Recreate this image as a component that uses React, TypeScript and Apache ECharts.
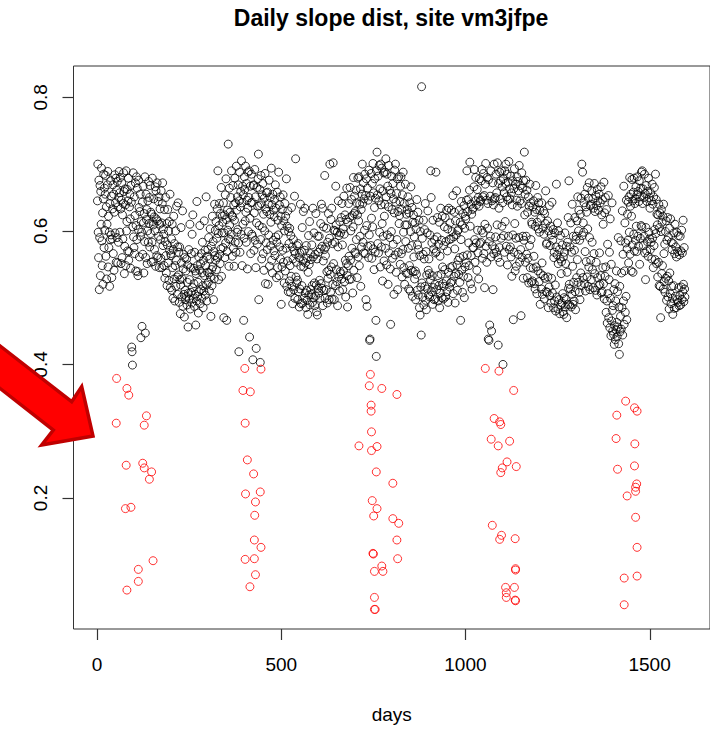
import React, { useEffect, useRef } from "react";
import * as echarts from "echarts";

const chartTitle = "Daily slope dist, site vm3jfpe";
const xAxisName = "days";
const xTicks = [0, 500, 1000, 1500];
const yTicks = [0.2, 0.4, 0.6, 0.8];

// daily slope values (in thousandths), one per day starting at day 1
const firstDay = 1;
const slopeMilli = [
  645, 700, 598, 560, 676, 512, 590, 668, 533, 659, 610, 694, 585, 548, 627, 520, 648, 685, 575, 664,
  601, 655, 683, 562, 636, 528, 610, 669, 689, 546, 622, 575, 598, 517, 641, 587, 675, 594, 652, 530,
  588, 633, 669, 566, 655, 541, 628, 684, 597, 642, 679, 553, 661, 590, 674, 552, 636, 583, 650, 689,
  657, 598, 680, 633, 551, 646, 672, 560, 624, 588, 641, 687, 659, 536, 577, 663, 639, 548, 690, 600,
  614, 662, 570, 645, 679, 556, 569, 636, 655, 618, 544, 668, 643, 426, 419, 399, 606, 687, 591, 575,
  651, 566, 623, 672, 540, 608, 681, 587, 664, 539, 533, 602, 676, 635, 561, 629, 655, 592, 440, 614,
  598, 457, 643, 565, 667, 612, 537, 626, 584, 681, 447, 560, 655, 617, 632, 551, 600, 645, 583, 674,
  611, 650, 576, 668, 596, 628, 553, 625, 583, 679, 614, 554, 609, 648, 621, 572, 600, 666, 547, 660,
  618, 563, 672, 615, 560, 644, 592, 651, 545, 610, 633, 587, 559, 660, 612, 545, 641, 672, 578, 603,
  595, 548, 632, 529, 584, 650, 563, 537, 611, 518, 579, 632, 552, 600, 526, 614, 571, 655, 515, 566,
  563, 588, 511, 610, 545, 499, 572, 622, 528, 581, 495, 548, 600, 517, 556, 637, 531, 505, 576, 642,
  534, 568, 493, 576, 527, 476, 519, 605, 552, 501, 528, 630, 487, 543, 565, 505, 471, 560, 511, 497,
  540, 502, 558, 489, 523, 549, 456, 507, 572, 498, 527, 610, 483, 545, 508, 566, 492, 595, 515, 624,
  499, 544, 521, 487, 568, 505, 540, 459, 536, 495, 644, 548, 502, 523, 477, 561, 509, 542, 608, 491,
  551, 512, 566, 499, 537, 583, 518, 485, 556, 510, 615, 533, 571, 504, 548, 651, 519, 495, 562, 538,
  572, 523, 590, 537, 510, 558, 603, 531, 472, 577, 542, 518, 622, 546, 584, 497, 569, 528, 640, 563,
  601, 556, 614, 542, 589, 633, 560, 690, 596, 527, 608, 641, 565, 551, 626, 573, 665, 532, 597, 622,
  613, 575, 642, 470, 597, 624, 560, 654, 582, 678, 617, 466, 569, 631, 601, 730, 588, 547, 664, 609,
  628, 587, 650, 595, 690, 623, 562, 621, 668, 574, 639, 547, 616, 679, 583, 642, 568, 697, 631, 598,
  651, 602, 669, 582, 419, 645, 688, 568, 636, 659, 595, 705, 642, 548, 667, 610, 654, 466, 589, 681,
  662, 615, 697, 628, 583, 671, 646, 543, 634, 688, 599, 650, 690, 441, 619, 667, 566, 642, 685, 595,
  643, 592, 407, 668, 669, 571, 627, 692, 586, 651, 545, 424, 612, 665, 580, 637, 678, 715, 497, 608,
  638, 662, 403, 587, 683, 641, 558, 654, 605, 671, 566, 625, 541, 649, 600, 686, 521, 633, 582, 657,
  629, 572, 658, 520, 641, 594, 676, 547, 625, 650, 578, 613, 694, 556, 639, 537, 655, 586, 631, 570,
  621, 647, 563, 669, 591, 634, 530, 583, 658, 545, 616, 594, 688, 533, 639, 576, 651, 558, 622, 490,
  608, 546, 632, 571, 654, 553, 615, 522, 600, 641, 540, 622, 574, 678, 517, 607, 555, 630, 509, 599,
  581, 525, 604, 548, 508, 593, 532, 635, 517, 576, 491, 558, 587, 512, 570, 652, 499, 566, 708, 531,
  553, 522, 578, 526, 497, 581, 509, 560, 486, 567, 513, 640, 547, 491, 569, 518, 605, 492, 555, 629,
  546, 499, 571, 634, 507, 552, 485, 578, 511, 496, 559, 475, 538, 593, 504, 550, 614, 489, 566, 512,
  557, 505, 579, 518, 493, 634, 561, 500, 597, 522, 488, 565, 502, 626, 519, 479, 558, 474, 592, 514,
  568, 507, 592, 526, 499, 573, 611, 521, 640, 514, 577, 634, 488, 555, 606, 511, 572, 683, 499, 563,
  576, 512, 604, 539, 492, 583, 529, 626, 541, 497, 589, 700, 535, 508, 617, 546, 634, 498, 581, 520,
  702, 551, 601, 497, 583, 600, 518, 667, 609, 542, 524, 598, 488, 576, 645, 531, 593, 510, 614, 539,
  597, 536, 620, 528, 641, 579, 512, 603, 540, 652, 595, 524, 624, 556, 501, 617, 551, 664, 533, 486,
  613, 548, 641, 562, 527, 620, 665, 556, 600, 528, 647, 574, 623, 507, 606, 680, 541, 626, 652, 568,
  629, 566, 661, 587, 642, 530, 624, 679, 561, 615, 681, 548, 640, 592, 663, 517, 632, 576, 655, 700,
  641, 583, 672, 567, 648, 601, 685, 566, 653, 497, 678, 608, 487, 664, 577, 646, 560, 691, 594, 436,
  438, 652, 578, 686, 619, 559, 671, 606, 701, 573, 657, 542, 635, 678, 568, 649, 466, 412, 690, 718,
  654, 581, 682, 567, 645, 698, 598, 663, 546, 700, 639, 576, 694, 611, 525, 660, 592, 687, 555, 622,
  640, 688, 574, 708, 651, 549, 685, 594, 667, 520, 636, 698, 567, 661, 590, 543, 460, 656, 599, 682,
  632, 559, 671, 580, 648, 505, 627, 691, 564, 700, 643, 538, 656, 587, 678, 512, 629, 568, 681, 611,
  623, 644, 550, 667, 681, 566, 632, 531, 654, 572, 688, 598, 545, 641, 520, 609, 670, 584, 537, 625,
  609, 632, 536, 651, 574, 513, 627, 548, 642, 510, 599, 666, 541, 578, 635, 502, 613, 539, 624, 561,
  591, 528, 612, 540, 497, 603, 535, 647, 511, 579, 628, 504, 572, 616, 485, 563, 474, 599, 516, 444,
  816, 522, 589, 501, 565, 616, 489, 558, 602, 517, 641, 496, 569, 482, 534, 597, 513, 630, 541, 504,
  558, 536, 501, 594, 527, 690, 650, 509, 582, 533, 490, 616, 515, 573, 497, 587, 520, 498, 567, 688,
  569, 512, 591, 620, 533, 495, 580, 518, 613, 485, 562, 507, 634, 535, 586, 500, 622, 546, 521, 498,
  578, 517, 606, 542, 620, 501, 584, 525, 631, 509, 570, 603, 493, 538, 634, 587, 516, 612, 545, 522,
  588, 631, 524, 599, 547, 653, 506, 591, 532, 628, 573, 492, 615, 536, 594, 660, 549, 511, 600, 556,
  602, 535, 631, 560, 523, 613, 466, 587, 644, 541, 609, 508, 626, 562, 532, 638, 500, 604, 546, 622,
  618, 552, 646, 690, 564, 629, 530, 647, 582, 548, 661, 703, 607, 521, 640, 563, 625, 513, 632, 575,
  634, 575, 666, 692, 587, 553, 645, 680, 582, 639, 541, 662, 601, 567, 650, 528, 637, 678, 581, 644,
  646, 583, 675, 601, 692, 559, 651, 597, 686, 566, 653, 515, 610, 670, 701, 577, 646, 553, 680, 604,
  641, 438, 677, 436, 584, 459, 652, 592, 690, 561, 450, 645, 578, 672, 512, 639, 566, 700, 648, 573,
  650, 591, 685, 568, 657, 609, 702, 560, 429, 671, 634, 575, 688, 553, 648, 675, 589, 690, 607, 666,
  642, 400, 678, 593, 657, 568, 690, 614, 671, 700, 577, 651, 685, 549, 646, 673, 592, 704, 572, 663,
  648, 576, 682, 561, 657, 532, 639, 675, 594, 467, 663, 568, 693, 611, 540, 670, 589, 547, 646, 681,
  637, 674, 565, 660, 590, 698, 553, 645, 668, 572, 473, 641, 687, 560, 664, 592, 529, 675, 586, 718,
  624, 655, 553, 676, 592, 565, 661, 530, 628, 559, 651, 522, 637, 578, 670, 545, 642, 587, 523, 613,
  610, 525, 636, 544, 645, 562, 521, 628, 513, 607, 668, 546, 632, 506, 613, 650, 540, 603, 642, 524,
  598, 631, 490, 536, 619, 513, 642, 552, 505, 604, 533, 630, 595, 498, 626, 529, 611, 660, 509, 580,
  582, 508, 615, 531, 485, 600, 516, 638, 503, 578, 607, 492, 594, 529, 643, 507, 586, 602, 485, 560,
  568, 495, 597, 519, 480, 576, 670, 501, 564, 612, 483, 551, 600, 497, 572, 476, 558, 593, 489, 536,
  554, 492, 579, 506, 479, 561, 475, 500, 568, 597, 486, 551, 498, 577, 470, 538, 583, 490, 620, 514,
  675, 520, 489, 576, 513, 612, 486, 568, 505, 640, 547, 490, 592, 523, 495, 571, 620, 509, 482, 587,
  592, 530, 615, 557, 651, 523, 600, 631, 508, 586, 497, 625, 537, 649, 518, 700, 593, 688, 530, 612,
  598, 642, 521, 655, 569, 510, 636, 554, 628, 531, 665, 603, 517, 649, 546, 672, 590, 512, 638, 556,
  640, 527, 660, 583, 542, 648, 515, 634, 566, 671, 536, 629, 511, 653, 553, 638, 504, 662, 530, 645,
  631, 518, 655, 567, 520, 642, 533, 666, 507, 624, 509, 647, 545, 610, 521, 673, 498, 627, 532, 650,
  546, 478, 632, 495, 462, 580, 506, 653, 470, 527, 568, 455, 618, 499, 443, 550, 465, 642, 481, 450,
  488, 445, 512, 430, 458, 521, 437, 495, 452, 540, 463, 442, 509, 456, 590, 431, 486, 415, 517, 449,
  472, 585, 453, 537, 485, 630, 444, 565, 495, 667, 460, 540, 612, 478, 582, 502, 646, 467, 573, 625,
  586, 643, 552, 651, 598, 680, 565, 637, 655, 540, 622, 677, 579, 645, 538, 658, 595, 679, 570, 641,
  648, 586, 666, 607, 569, 654, 681, 592, 659, 577, 644, 675, 550, 651, 589, 664, 608, 688, 606, 690,
  641, 663, 578, 650, 592, 685, 567, 656, 527, 605, 668, 570, 644, 584, 659, 562, 679, 598, 650, 588,
  634, 572, 657, 583, 645, 558, 670, 589, 640, 545, 651, 578, 665, 602, 557, 685, 596, 647, 551, 625,
  609, 531, 624, 553, 640, 518, 605, 627, 517, 470, 599, 632, 536, 613, 548, 622, 513, 640, 566, 524,
  580, 508, 599, 529, 615, 496, 586, 532, 620, 501, 591, 525, 483, 604, 537, 506, 618, 491, 583, 517,
  572, 499, 475, 581, 518, 597, 484, 566, 610, 502, 576, 485, 561, 598, 497, 569, 493, 593, 515, 488,
  564, 503, 592, 489, 570, 516, 601, 497, 567, 509, 616, 520, 494, 575, 513, 501,
];

// outlier days (red)
const redDays = [
  53, 81, 86, 134, 52, 128, 79, 124, 128, 148, 142, 77, 92, 152, 112, 112, 81,
  401, 445, 396, 416, 402, 408, 425, 403, 443, 430, 428, 427, 445, 402, 427, 430, 415,
  742, 739, 773, 744, 744, 745, 711, 760, 745, 758, 747, 760, 751, 749, 750, 773, 776, 753, 753, 753, 755, 814, 803, 803, 819, 814, 816,
  1054, 1091, 1131, 1078, 1093, 1096, 1070, 1089, 1120, 1113, 1100, 1096, 1138, 1073, 1098, 1093, 1135, 1136, 1136, 1109, 1111, 1111, 1133, 1135, 1136,
  1435, 1411, 1459, 1466, 1409, 1460, 1413, 1459, 1465, 1462, 1439, 1462, 1462, 1466, 1431, 1466, 1431,
];
const redSlopes = [
  0.379, 0.364, 0.354, 0.323, 0.312, 0.309, 0.249, 0.252, 0.245, 0.239, 0.228, 0.184, 0.186, 0.106, 0.093, 0.075, 0.062,
  0.394, 0.393, 0.361, 0.359, 0.312, 0.257, 0.236, 0.206, 0.209, 0.194, 0.174, 0.137, 0.126, 0.108, 0.109, 0.085, 0.067,
  0.385, 0.368, 0.364, 0.339, 0.33, 0.299, 0.278, 0.277, 0.271, 0.239, 0.196, 0.184, 0.173, 0.117, 0.116, 0.098, 0.09, 0.09, 0.051, 0.033, 0.033, 0.355, 0.222, 0.169, 0.162, 0.137, 0.109,
  0.394, 0.39, 0.361, 0.319, 0.314, 0.31, 0.288, 0.278, 0.285, 0.254, 0.245, 0.238, 0.247, 0.159, 0.144, 0.138, 0.139, 0.092, 0.094, 0.066, 0.058, 0.051, 0.066, 0.047, 0.046,
  0.345, 0.324, 0.335, 0.33, 0.289, 0.281, 0.243, 0.248, 0.221, 0.216, 0.203, 0.21, 0.171, 0.126, 0.08, 0.083, 0.04,
];

const FONT = '"Liberation Sans", Arial, Helvetica, sans-serif';
const TICK_LEN = 11;
const X_MIN = -64;
const X_MAX = 1664;
const Y_MIN = 0.0037;
const Y_MAX = 0.847;
const GRID = { left: 73.5, top: 66, width: 649, height: 569.5 };

export default function App() {
  const ref = useRef<HTMLDivElement>(null);
  useEffect(() => {
    if (!ref.current) return;
    const chart = echarts.init(ref.current, undefined, { renderer: "svg" });
    const blackData = slopeMilli.map((v, i) => [firstDay + i, v / 1000]);
    const redData = redDays.map((d, i) => [d, redSlopes[i]]);

    const buildOption = (extraGraphics: any[]) => ({
      animation: false,
      backgroundColor: "#ffffff",
      textStyle: { fontFamily: FONT },
      grid: {
        ...GRID,
        show: true,
        borderColor: "#333333",
        borderWidth: 1,
        backgroundColor: "transparent",
        containLabel: false,
      },
      xAxis: {
        type: "value",
        min: X_MIN,
        max: X_MAX,
        name: xAxisName,
        nameLocation: "middle",
        nameGap: 76,
        nameTextStyle: { fontSize: 19, color: "#000", fontFamily: FONT },
        axisLine: { show: false, onZero: false },
        splitLine: { show: false },
        axisTick: { show: false },
        axisLabel: {
          customValues: xTicks,
          fontSize: 19,
          color: "#000",
          margin: 26,
          fontFamily: FONT,
          formatter: (v: number) => String(v),
        },
      },
      yAxis: {
        type: "value",
        min: Y_MIN,
        max: Y_MAX,
        axisLine: { show: false, onZero: false },
        splitLine: { show: false },
        axisTick: { show: false },
        axisLabel: {
          customValues: yTicks,
          rotate: 90,
          fontSize: 19,
          color: "#000",
          margin: 24,
          fontFamily: FONT,
          formatter: (v: number) => v.toFixed(1),
        },
      },
      series: [
        {
          type: "scatter",
          data: blackData,
          symbol: "circle",
          symbolSize: 8,
          itemStyle: { color: "rgba(0,0,0,0)", borderColor: "#000", borderWidth: 1 },
          emphasis: { disabled: true },
          z: 2,
        },
        {
          type: "scatter",
          data: redData,
          symbol: "circle",
          symbolSize: 8,
          itemStyle: { color: "rgba(0,0,0,0)", borderColor: "#ff0000", borderWidth: 1 },
          emphasis: { disabled: true },
          z: 3,
        },
      ],
      graphic: {
        elements: [
          {
            type: "text",
            x: 391,
            y: 18,
            z: 50,
            style: {
              text: chartTitle,
              font: `bold 23px ${FONT}`,
              fill: "#000",
              align: "center",
              verticalAlign: "middle",
            },
          },
          ...extraGraphics,
          {
            type: "polygon",
            z: 100,
            shape: {
              points: [
                [-23, 328],
                [71.7, 401.7],
                [81.7, 386.7],
                [93, 436],
                [41.7, 445],
                [53.3, 430],
                [-41.5, 356],
              ],
            },
            style: { fill: "#ff0000", stroke: "#c00000", lineWidth: 3.5, lineJoin: "miter" },
          },
        ],
      },
    });

    chart.setOption(buildOption([]));

    // tick marks placed through the axes' own scales
    const toX = (v: number): number => {
      let p: any = null;
      try {
        p = chart.convertToPixel({ xAxisIndex: 0 } as any, v);
      } catch (e) {
        p = null;
      }
      if (typeof p !== "number" || !isFinite(p)) {
        p = GRID.left + ((v - X_MIN) / (X_MAX - X_MIN)) * GRID.width;
      }
      return p;
    };
    const toY = (v: number): number => {
      let p: any = null;
      try {
        p = chart.convertToPixel({ yAxisIndex: 0 } as any, v);
      } catch (e) {
        p = null;
      }
      if (typeof p !== "number" || !isFinite(p)) {
        p = GRID.top + GRID.height - ((v - Y_MIN) / (Y_MAX - Y_MIN)) * GRID.height;
      }
      return p;
    };
    const bottom = toY(Y_MIN);
    const left = toX(X_MIN);
    const ticks: any[] = [];
    xTicks.forEach((t) => {
      const px = Math.round(toX(t)) + 0.5;
      ticks.push({
        type: "line",
        z: 40,
        shape: { x1: px, y1: bottom, x2: px, y2: bottom + TICK_LEN },
        style: { stroke: "#333333", lineWidth: 1.2 },
      });
    });
    yTicks.forEach((t) => {
      const py = Math.round(toY(t)) + 0.5;
      ticks.push({
        type: "line",
        z: 40,
        shape: { x1: left - TICK_LEN, y1: py, x2: left, y2: py },
        style: { stroke: "#333333", lineWidth: 1.2 },
      });
    });
    chart.setOption(buildOption(ticks), { notMerge: true });

    return () => chart.dispose();
  }, []);
  return (
    <div
      ref={ref}
      style={{ position: "absolute", left: 0, top: 0, width: 710, height: 729 }}
    />
  );
}
